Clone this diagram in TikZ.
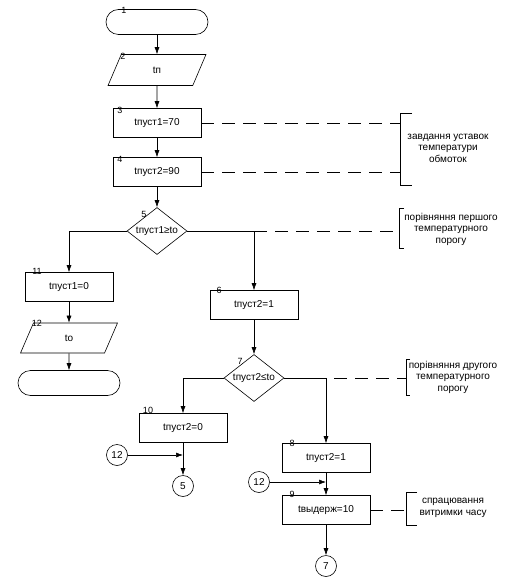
\documentclass[tikz,border=0pt]{standalone}
\usepackage{fontspec}
\setmainfont{Liberation Sans}
\usetikzlibrary{shapes.geometric,shapes.misc,arrows.meta}

\begin{document}
\begin{tikzpicture}[x=1pt, y=-1pt, font=\fontsize{10}{11.5}\selectfont, line width=0.6pt,
	>={Latex[length=7pt,width=5pt]},
	blok/.style={draw, rectangle, minimum width=88pt, minimum height=29pt, inner sep=0pt},
	dani/.style={draw, trapezium, trapezium left angle=77, trapezium right angle=103, trapezium stretches=true, minimum width=98pt, minimum height=31pt, inner sep=0pt},
	term/.style={draw, rounded rectangle, minimum width=102pt, minimum height=25pt, inner sep=0pt},
	umova/.style={draw, diamond, minimum width=60pt, minimum height=47pt, inner sep=0pt},
	kolo/.style={draw, circle, minimum size=21pt, inner sep=0pt},
	nomer/.style={font=\fontsize{9}{9}\selectfont, inner sep=0pt},
	komentar/.style={align=center},
	shtrykh/.style={dash pattern=on 13pt off 8pt}]
	\useasboundingbox (0,0) rectangle (505,580);
	
	\node[term] (t1) at (157,22) {};%початок
	\node[dani] (b2) at (157,70) {tп};
	\node[blok] (b3) at (157,123) {tпуст1=70};
	\node[blok] (b4) at (157,172) {tпуст2=90};
	\node[umova, label={center:tпуст1≥to}] (u5) at (157,231) {};
	\node[blok] (b11) at (69,287) {tпуст1=0};
	\node[dani, minimum width=97pt, minimum height=30pt] (b12) at (69,338) {to};
	\node[term] (t2) at (69,383) {};%кінець
	\node[blok] (b6) at (254,305) {tпуст2=1};
	\node[umova, label={center:tпуст2≤to}] (u7) at (254,378) {};
	\node[blok] (b10) at (183,428) {tпуст2=0};
	\node[blok] (b8) at (326,458) {tпуст2=1};
	\node[blok] (b9) at (326,510) {tвыдерж=10};
	
	\node[kolo] (k12a) at (117,455) {12};%з'єднувачі
	\node[kolo] (k5) at (183,486) {5};
	\node[kolo] (k12b) at (259,482) {12};
	\node[kolo] (k7) at (326,566) {7};
	
	%номери блоків
	\node[nomer] (n1) at (124,10) {1};
	\node[nomer] (n2) at (123,56) {2};
	\node[nomer] (n3) at (120,110) {3};
	\node[nomer] (n4) at (120,159) {4};
	\node[nomer] (n5) at (144,214) {5};
	\node[nomer] (n11) at (37,271) {11};
	\node[nomer] (n12) at (37,323) {12};
	\node[nomer] (n6) at (219,290) {6};
	\node[nomer] (n7) at (240,361) {7};
	\node[nomer] (n10) at (148,410) {10};
	\node[nomer] (n8) at (292,443) {8};
	\node[nomer] (n9) at (292,494) {9};
	
	\draw[->] (t1) -- (b2);
	\draw[->] (b2) -- (b3);
	\draw[->] (b3) -- (b4);
	\draw[->] (b4) -- (u5);
	\draw[->] (u5.west) -| (b11.north);
	\draw[->] (b11) -- (b12);
	\draw[->] (b12) -- (t2);
	\draw[->] (u5.east) -| (b6.north);
	\draw[->] (b6) -- (u7);
	\draw[->] (u7.west) -| (b10.north);
	\draw[->] (u7.east) -| (b8.north);
	\draw[->] (b8) -- (b9);
	\draw[->] (b9) -- (k7);
	\draw[->] (b10) -- (k5);
	\draw[->] (k12a) -- (k12a -| b10.south);
	\draw[->] (k12b) -- (k12b -| b8.south);
	
	%коментарі
	\coordinate (z1) at (400,113);
	\draw (412,113) -- (z1) -- (400,185) -- (412,185);
	\draw[shtrykh] (b3.east) -- (b3.east -| z1);
	\draw[shtrykh] (b4.east) -- (b4.east -| z1);
	\node[komentar] (c1) at (448,148) {завдання уставок\\температури\\обмоток};
	
	\coordinate (z2) at (399,208);
	\draw (404,208) -- (z2) -- (399,248) -- (404,248);
	\draw[shtrykh] (u5.east -| b6.north) -- (u5.east -| z2);
	\node[komentar] (c2) at (451,229) {порівняння першого\\температурного\\порогу};
	
	\coordinate (z3) at (406,359);
	\draw (410,359) -- (z3) -- (406,395) -- (410,395);
	\draw[shtrykh, dash phase=13pt] (u7.east -| b8.north) -- (u7.east -| z3);
	\node[komentar] (c3) at (453,377) {порівняння другого\\температурного\\порогу};
	
	\coordinate (z4) at (406,492);
	\draw (417,492) -- (z4) -- (406,525) -- (417,525);
	\draw[shtrykh] (b9.east) -- (b9.east -| z4);
	\node[komentar] (c4) at (453,508) {спрацювання\\витримки часу};
\end{tikzpicture}
\end{document}
